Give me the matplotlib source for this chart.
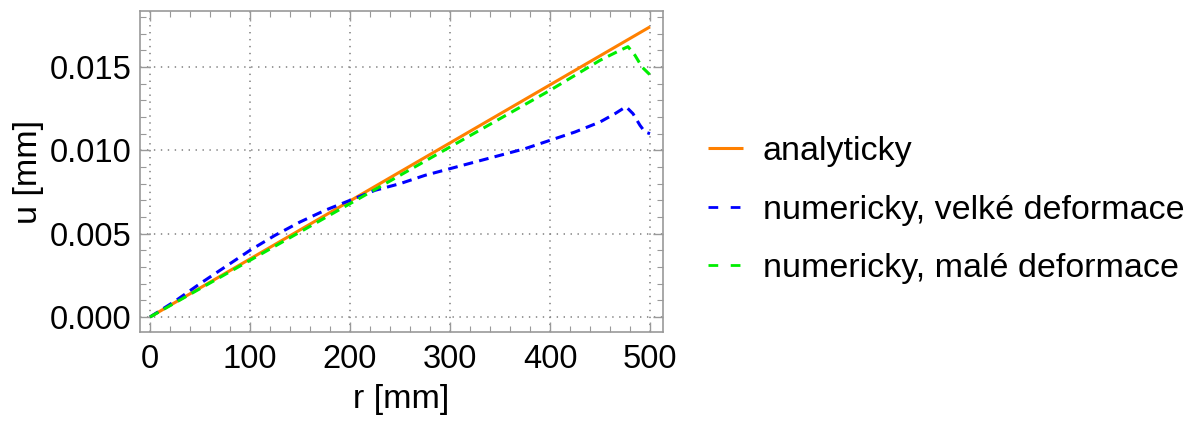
import matplotlib
matplotlib.use("Agg")
import matplotlib.pyplot as plt
from matplotlib.ticker import MultipleLocator, FixedLocator

plt.rcParams['font.family'] = ['Liberation Sans', 'DejaVu Sans']
plt.rcParams['lines.scale_dashes'] = False

# analytic solution
r_an = [0, 500]
u_an = [0.0, 0.01741]

# numerical, large deformations
r_big = [0, 25, 50, 75, 100, 125, 150, 175, 200, 225, 250, 275, 300, 325, 350,
         375, 400, 425, 450, 465, 476, 483, 490, 495, 500]
u_big = [0.0, 0.00095, 0.0020, 0.0030, 0.0040, 0.0049, 0.0057, 0.0064, 0.0070,
         0.0076, 0.0080, 0.0085, 0.0089, 0.0093, 0.0097, 0.0101, 0.0106, 0.0111,
         0.0117, 0.0122, 0.01262, 0.0122, 0.0115, 0.0111, 0.0110]

# numerical, small deformations
r_small = [0, 50, 100, 150, 200, 250, 300, 350, 400, 450, 470, 478, 485, 492, 500]
u_small = [0.0, 0.0017, 0.0034, 0.0051, 0.0068, 0.0085, 0.0102, 0.0119, 0.0136,
           0.0154, 0.0160, 0.01622, 0.0157, 0.0150, 0.01453]

labels = ["analyticky", "numericky, velké deformace", "numericky, malé deformace"]
x_ticks = [0, 100, 200, 300, 400, 500]
y_ticks = [0.000, 0.005, 0.010, 0.015]

fig = plt.figure(figsize=(11.92, 4.21), dpi=100)
ax = fig.add_axes([140/1192, 1-332/421, (663-140)/1192, (332-11)/421])

ax.plot(r_an, u_an, color='#FF8000', lw=2.2, label=labels[0], solid_capstyle='butt')
ax.plot(r_big, u_big, color='#0000FF', lw=2.2, dashes=(7, 4.5), label=labels[1])
ax.plot(r_small, u_small, color='#00EE00', lw=2.2, dashes=(7, 4.5), label=labels[2])

ax.set_xlim(-10, 513)
ax.set_ylim(-0.00090, 0.01836)
ax.xaxis.set_major_locator(FixedLocator(x_ticks))
ax.yaxis.set_major_locator(FixedLocator(y_ticks))
ax.xaxis.set_minor_locator(MultipleLocator(20))
ax.yaxis.set_minor_locator(MultipleLocator(0.001))
ax.set_xticklabels([str(v) for v in x_ticks])
ax.set_yticklabels([f"{v:.3f}" for v in y_ticks])

ax.tick_params(which='both', direction='in', top=True, right=True, color='#999999',
               labelsize=23.5, labelcolor='black')
ax.tick_params(which='major', length=7, width=1)
ax.tick_params(which='minor', length=4, width=0.8)
ax.tick_params(axis='x', pad=9)
ax.tick_params(axis='y', pad=6)
for s in ax.spines.values():
    s.set_color('#999999')
    s.set_linewidth(1.2)

ax.grid(True, which='major', color='#888888', linestyle=(0, (1, 4)), linewidth=1.2)

ax.set_xlabel("r [mm]", fontsize=24.5, labelpad=6)
ax.set_ylabel("u [mm]", fontsize=24.5, labelpad=4)

leg = ax.legend(loc='center left', bbox_to_anchor=(1.027, 0.38), frameon=False,
                fontsize=24.5, handlelength=1.05, handletextpad=0.56, labelspacing=0.8)
for h in leg.get_lines()[1:]:
    h.set_dashes((7, 9))
    h.set_linewidth(2.0)

fig.savefig("out.png", dpi=100)
